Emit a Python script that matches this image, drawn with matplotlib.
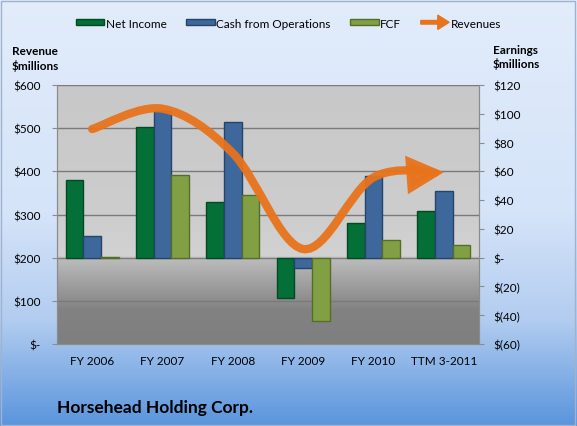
import numpy as np
import matplotlib
matplotlib.use("Agg")
import matplotlib.pyplot as plt
from matplotlib.colors import LinearSegmentedColormap
from matplotlib.patches import FancyArrowPatch, FancyArrow, Patch, Rectangle
from matplotlib.path import Path
from matplotlib.legend_handler import HandlerPatch
from matplotlib.ticker import FixedLocator, FuncFormatter

plt.rcParams['font.family'] = ['Lato', 'DejaVu Sans']

categories = ['FY 2006', 'FY 2007', 'FY 2008', 'FY 2009', 'FY 2010', 'TTM 3-2011']
net_income = [54, 91, 39, -28, 24, 32.5]
cash_ops = [15, 102, 94, -7, 57, 46.5]
fcf = [0.5, 57.5, 43.5, -44, 12.5, 9]
revenues = [498, 545, 442, 220, 386, 398]

c_ni, e_ni = '#046f36', '#024a23'
c_cfo, e_cfo = '#3e689c', '#26436a'
c_fcf, e_fcf = '#81a044', '#566d2a'
c_rev = '#e8731c'

fig = plt.figure(figsize=(5.77, 4.27), dpi=100)

# figure background gradient
bg = fig.add_axes([0, 0, 1, 1], zorder=-10)
bg_cmap = LinearSegmentedColormap.from_list('bg', [(0, '#5a95dd'), (0.25, '#b3cdf0'),
                                                   (0.5, '#d5e4f9'), (1, '#e2ecfb')])
bg.imshow(np.linspace(0, 1, 256).reshape(-1, 1), cmap=bg_cmap, aspect='auto',
          origin='lower', extent=[0, 1, 0, 1])
bg.set_xlim(0, 1)
bg.set_ylim(0, 1)
bg.axis('off')
bg.add_patch(Rectangle((0.002, 0.003), 0.995, 0.993, fill=False, ec='#9fb3cf', lw=1))

ax = fig.add_axes([57 / 577, 82 / 427, 422 / 577, 259 / 427])
ax2 = ax.twinx()

# plot area gradient
pa_cmap = LinearSegmentedColormap.from_list('pa', [(0, '#7f7f7f'), (0.13, '#828282'),
                                                   (0.33, '#bcbcbc'), (0.34, '#d2d2d2'),
                                                   (0.5, '#cdcdcd'), (1, '#c8c8c8')])
ax.imshow(np.linspace(0, 1, 256).reshape(-1, 1), cmap=pa_cmap, aspect='auto',
          origin='lower', extent=[0, 1, 0, 1], transform=ax.transAxes, zorder=0)

x = np.arange(len(categories))
w = 0.25
ax2.bar(x - w, net_income, w, color=c_ni, edgecolor=e_ni, lw=1, zorder=3)
ax2.bar(x, cash_ops, w, color=c_cfo, edgecolor=e_cfo, lw=1, zorder=3)
ax2.bar(x + w, fcf, w, color=c_fcf, edgecolor=e_fcf, lw=1, zorder=3)

ax.set_xlim(-0.5, len(categories) - 0.5)
ax.set_ylim(0, 600)
ax2.set_ylim(-60, 120)

# smoothed revenue line (bezier through the points)
pts = np.column_stack([x, revenues]).astype(float)
ext = np.vstack([pts[0], pts, pts[-1]])
verts = [tuple(pts[0])]
codes = [Path.MOVETO]
for i in range(len(pts) - 1):
    p0, p1, p2, p3 = ext[i], ext[i + 1], ext[i + 2], ext[i + 3]
    verts += [tuple(p1 + (p2 - p0) / 6), tuple(p2 - (p3 - p1) / 6), tuple(p2)]
    codes += [Path.CURVE4] * 3
rev_path = Path(verts, codes)
arrow = FancyArrowPatch(path=rev_path, arrowstyle='-|>,head_length=1.45,head_width=0.75',
                        mutation_scale=12, color=c_rev, lw=6, capstyle='round',
                        joinstyle='miter', transform=ax.transData, zorder=5, alpha=0.95)
ax2.add_patch(arrow)

# axes styling
ax.yaxis.set_major_locator(FixedLocator(np.arange(0, 601, 100)))
ax.yaxis.set_major_formatter(FuncFormatter(lambda v, p: '$-' if v == 0 else f'${v:.0f}'))
ax2.yaxis.set_major_locator(FixedLocator(np.arange(-60, 121, 20)))
ax2.yaxis.set_major_formatter(FuncFormatter(
    lambda v, p: '$-' if v == 0 else (f'$({-v:.0f})' if v < 0 else f'${v:.0f}')))
ax.grid(axis='y', color='#7a7a7a', lw=1, zorder=1)
ax.set_axisbelow(True)
ax.set_xticks(x)
ax.set_xticklabels(categories)
ax.set_xticks(np.arange(0.5, len(categories) - 1, 1), minor=True)

for a in (ax, ax2):
    for s in a.spines.values():
        s.set_color('#8c8c8c')
    a.spines['top'].set_visible(False)
ax.spines['bottom'].set_color('#a6a6a6')
ax.tick_params(axis='y', length=3.5, color='#8c8c8c', pad=8, labelsize=8.5, labelcolor='black')
ax2.tick_params(axis='y', length=3.5, color='#8c8c8c', pad=6.5, labelsize=8.5, labelcolor='black')
ax.tick_params(axis='x', which='major', length=0, pad=8, labelsize=8.5)
ax.tick_params(axis='x', which='minor', length=0)

fig.text(35 / 577, 1 - 59 / 427, 'Revenue\n$millions', ha='center', va='center',
         fontsize=8.5, fontweight='bold', linespacing=1.3)
fig.text(516 / 577, 1 - 57.5 / 427, 'Earnings\n$millions', ha='center', va='center',
         fontsize=8.5, fontweight='bold', linespacing=1.3)
fig.text(57 / 577, 1 - 408 / 427, 'Horsehead Holding Corp.', ha='left', va='center',
         fontsize=12.5, fontweight='bold')


def make_arrow(legend, orig_handle, xdescent, ydescent, width, height, fontsize):
    return FancyArrow(-xdescent, height / 2 - ydescent, width, 0, width=height * 0.6,
                      head_width=height * 2.4, head_length=width * 0.4,
                      length_includes_head=True, color=c_rev, lw=0)


handles = [Patch(facecolor=c_ni, edgecolor=e_ni, label='Net Income'),
           Patch(facecolor=c_cfo, edgecolor=e_cfo, label='Cash from Operations'),
           Patch(facecolor=c_fcf, edgecolor=e_fcf, label='FCF'),
           FancyArrow(0, 0, 1, 0, color=c_rev, label='Revenues')]
fig.legend(handles=handles, loc='center', bbox_to_anchor=(0.5, 1 - 24 / 427), ncol=4,
           frameon=False, fontsize=8.5, handlelength=2.4, handleheight=0.4,
           handletextpad=0.15, columnspacing=1.65,
           handler_map={FancyArrow: HandlerPatch(patch_func=make_arrow)})

fig.savefig('out.png', dpi=100)
